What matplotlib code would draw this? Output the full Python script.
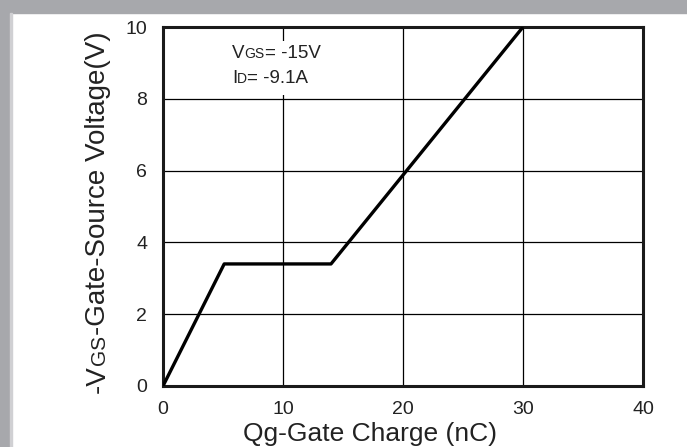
import matplotlib
matplotlib.use("Agg")
import matplotlib.pyplot as plt
from matplotlib.patches import Rectangle

# gate charge curve (nC, V)
qg = [0, 5.1, 14.0, 30.0]
vgs = [0, 3.4, 3.4, 10.0]

x_ticks = [0, 10, 20, 30, 40]
y_ticks = [0, 2, 4, 6, 8, 10]

plt.rcParams["font.family"] = ["Liberation Sans", "DejaVu Sans"]

W, H = 687, 447
fig = plt.figure(figsize=(W / 100, H / 100), dpi=100)
fig.patch.set_facecolor("white")

# grey frame of the datasheet panel (top band + left strip)
fig.add_artist(Rectangle((0, 1 - 13 / H), 1, 13 / H, transform=fig.transFigure,
                         color="#a7a8ac", zorder=0))
fig.add_artist(Rectangle((0, 0), 10 / W, 1, transform=fig.transFigure,
                         color="#a7a8ac", zorder=0))
fig.add_artist(Rectangle((10 / W, 0), 2 / W, 1 - 13 / H, transform=fig.transFigure,
                         color="#d0d0d3", zorder=0))

left, right, top, bottom = 163, 643, 27, 386
ax = fig.add_axes([left / W, 1 - bottom / H, (right - left) / W, (bottom - top) / H])

ax.plot(qg, vgs, color="black", lw=2.4, solid_capstyle="butt", zorder=3)

ax.set_xlim(0, 40)
ax.set_ylim(0, 10)
ax.set_xticks(x_ticks)
ax.set_yticks(y_ticks)
ax.grid(True, color="black", lw=0.9)
ax.set_axisbelow(True)
ax.tick_params(length=0, labelsize=14, colors="#222222")
ax.tick_params(axis="y", pad=11.5)
ax.tick_params(axis="x", pad=11)
for s in ax.spines.values():
    s.set_linewidth(2.2)
    s.set_color("#1a1a1a")

# white box behind the condition text (hides the grid line there)
ax.add_patch(Rectangle((5.6, 8.1), 7.5, 1.5, facecolor="white",
                       edgecolor="none", zorder=1.5))

fig.canvas.draw()
renderer = fig.canvas.get_renderer()


def small_caps_row(x, y, pieces):
    # draw text pieces one after another on a shared baseline (data coords)
    px, py = ax.transData.transform((x, y))
    for txt, fs in pieces:
        t = ax.text(px, py, txt, fontsize=fs, va="baseline", ha="left",
                    color="#222222", transform=None, zorder=2)
        px += t.get_window_extent(renderer).width


small_caps_row(5.75, 9.14, [("V", 13.5), ("GS", 10), ("= -15V", 13.5)])
small_caps_row(5.75, 8.44, [("I", 13.5), ("D", 10), ("= -9.1A", 13.5)])

fig.text(370 / W, 1 - 441 / H, "Qg-Gate Charge (nC)", fontsize=19,
         ha="center", va="baseline", color="#222222")

# y label built from pieces so "GS" can be drawn smaller
xlab = 105 / W
ypos = 393
for txt, fs in [("-V", 20), ("GS", 15), ("-Gate-Source Voltage(V)", 20)]:
    t = fig.text(xlab, 1 - ypos / H, txt, fontsize=fs, rotation=90, ha="left",
                 va="baseline", color="#222222", rotation_mode="anchor")
    ypos -= t.get_window_extent(renderer).height

fig.savefig("out.png", dpi=100)
